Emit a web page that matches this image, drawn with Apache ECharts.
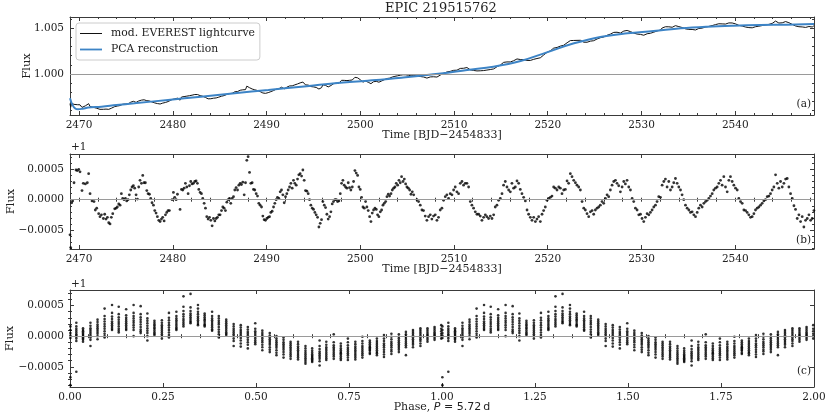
<!DOCTYPE html>
<html><head><meta charset="utf-8">
<script src="https://cdn.jsdelivr.net/npm/echarts@6/dist/echarts.min.js"></script>
<style>html,body{margin:0;padding:0;background:#fff}#c{width:831px;height:420px}</style>
</head><body><div id="c"></div>
<script>
// ---------- DATA ----------
const title = 'EPIC 219515762';

// PCA reconstruction (panel a, blue): [time BJD-2454833, flux]
const pcaCurve = [[2469.04,0.99734],[2469.3,0.99662],[2469.6,0.99622],[2469.9,0.99614],[2470.4,0.99620],[2471.0,0.99632],[2472.4,0.99642],[2474.0,0.99660],[2475.9,0.99679],[2479.5,0.99716],[2483.0,0.99752],[2486.6,0.99789],[2490.2,0.99825],[2493.7,0.99861],[2497.3,0.99898],[2500.8,0.99927],[2504.4,0.99960],[2508.6,1.00005],[2511.4,1.00044],[2514.2,1.00080],[2517.1,1.00142],[2519.9,1.00237],[2522.8,1.00336],[2525.6,1.00406],[2528.5,1.00445],[2531.3,1.00470],[2534.2,1.00500],[2537.0,1.00518],[2539.8,1.00529],[2542.7,1.00536],[2545.5,1.00540],[2548.4,1.00546]];

// Residual lightcurve (panel b): [time, flux-1 in units of 1e-5]
const residual = [[2469.04,-58],[2469.11,-79],[2469.22,-5],[2469.32,-2],[2469.47,28],[2469.68,49],[2469.82,48],[2469.97,50],[2470.11,46],[2470.32,15],[2470.46,27],[2470.68,26],[2470.89,28],[2471.03,43],[2471.18,10],[2471.39,-2],[2471.60,-3],[2471.74,-17],[2471.89,-14],[2472.10,-23],[2472.24,-28],[2472.39,-25],[2472.60,-31],[2472.74,-24],[2472.88,-32],[2473.03,-29],[2473.17,-38],[2473.31,-40],[2473.45,-29],[2473.60,-23],[2473.81,-15],[2473.95,-14],[2474.09,-12],[2474.24,-7],[2474.38,-9],[2474.52,10],[2474.66,2],[2474.81,0],[2474.95,2],[2475.09,-2],[2475.23,0],
[2475.37,8],[2475.52,16],[2475.66,21],[2475.80,23],[2475.94,19],[2476.09,8],[2476.23,1],[2476.37,21],[2476.51,32],[2476.66,27],[2476.80,40],[2476.94,28],[2477.08,28],[2477.23,15],[2477.37,10],[2477.51,9],[2477.65,2],[2477.79,-5],[2477.94,-9],[2478.08,-18],[2478.22,-22],[2478.36,-28],[2478.51,-34],[2478.65,-36],[2478.79,-32],[2478.93,-29],[2479.08,-35],[2479.22,-25],[2479.36,-21],[2479.50,-18],[2479.64,-18],[2479.93,0],[2480.07,12],[2480.21,4],[2480.36,0],[2480.50,9],[2480.78,-16],[2480.93,17],[2481.07,16],[2481.21,19],[2481.35,27],[2481.50,21],[2481.64,10],[2481.78,23],[2481.92,30],[2482.06,26],[2482.21,27],[2482.35,30],[2482.49,31],[2482.63,27],[2482.78,17],[2482.92,12],[2483.06,10],[2483.20,2],[2483.35,-6],[2483.49,-14],[2483.63,-28],[2483.77,-32],[2483.92,-29],[2484.06,-34],[2484.20,-43],[2484.34,-31],[2484.49,-35],[2484.63,-31],[2484.77,-29],[2484.91,-25],[2485.05,-25],[2485.20,-18],[2485.34,-12],[2485.48,-14],[2485.62,-18],
[2485.77,-4],[2485.91,0],[2486.05,2],[2486.19,-6],[2486.34,2],[2486.48,5],[2486.62,16],[2486.76,20],[2486.91,16],[2487.05,24],[2487.19,27],[2487.33,25],[2487.47,29],[2487.62,8],[2487.76,28],[2487.90,65],[2488.04,71],[2488.19,45],[2488.33,27],[2488.47,28],[2488.61,17],[2488.75,16],[2488.90,10],[2489.04,6],[2489.18,-6],[2489.32,-9],[2489.47,-12],[2489.61,-27],[2489.75,-33],[2489.89,-34],[2490.04,-31],[2490.18,-29],[2490.32,-28],[2490.46,-21],[2490.60,-19],[2490.75,-12],[2490.89,-6],[2491.03,0],[2491.17,4],[2491.32,2],[2491.46,13],[2491.60,16],[2491.74,8],[2491.89,-5],[2492.03,5],[2492.17,10],[2492.31,16],[2492.46,21],[2492.60,27],[2492.74,19],[2492.88,32],[2493.02,27],[2493.17,24],[2493.31,34],[2493.45,41],[2493.59,43],[2493.74,39],[2493.88,49],[2494.02,32],[2494.16,15],[2494.31,14],[2494.45,10],[2494.59,0],[2494.73,-9],[2494.88,-14],[2495.02,-16],[2495.16,-21],[2495.30,-25],[2495.45,-29],[2495.59,-45],[2495.73,-39],[2495.87,-33],[2496.01,-3],[2496.16,-9],[2496.30,-13],[2496.44,-24],[2496.58,-32],[2496.73,-28],[2496.87,-20],[2497.01,-7],[2497.15,-3],[2497.30,0],[2497.44,0],[2497.58,-3],[2497.72,-2],[2497.87,10],[2498.01,27],[2498.15,32],[2498.29,24],[2498.43,21],[2498.58,19],[2498.72,28],[2498.86,20],[2499.00,16],[2499.15,21],[2499.29,30],[2499.43,48],[2499.57,44],[2499.72,40],[2499.86,21],[2500.00,17],[2500.14,4],[2500.29,-12],[2500.43,-14],[2500.57,-3],[2500.71,-12],[2500.85,-18],[2501.00,-28],[2501.14,-36],[2501.28,-22],[2501.42,-17],[2501.57,-14],[2501.71,-16],[2501.85,-25],[2501.99,-28],[2502.14,-20],[2502.28,-17],[2502.42,-9],[2502.56,-6],[2502.71,-3],[2502.85,5],[2502.99,9],[2503.13,6],[2503.28,10],[2503.42,16],[2503.56,19],[2503.70,21],[2503.84,27],[2503.99,24],[2504.13,32],[2504.27,28],[2504.41,38],[2504.56,30],[2504.70,34],[2504.84,26],[2504.98,21],[2505.13,19],[2505.27,16],[2505.41,9],[2505.55,13],[2505.70,8],[2506.05,0],
[2506.22,-3],[2506.40,-9],[2506.58,-17],[2506.75,-18],[2506.93,-27],[2507.11,-34],[2507.29,-28],[2507.47,-25],[2507.64,-32],[2507.82,-27],[2508.00,-25],[2508.18,-34],[2508.35,-29],[2508.53,-17],[2508.71,-14],[2508.89,-1],[2509.07,5],[2509.24,8],[2509.42,2],[2509.60,10],[2509.78,8],[2509.96,16],[2510.13,21],[2510.31,13],[2510.49,10],[2510.67,27],[2510.85,30],[2511.02,24],[2511.20,27],[2511.38,27],[2511.56,21],[2511.74,-3],[2511.91,-9],[2512.09,-14],[2512.27,-20],[2512.45,-24],[2512.63,-24],[2512.80,-27],[2512.98,-34],[2513.16,-29],[2513.34,-25],[2513.51,-28],[2513.69,-31],[2513.87,-27],[2514.05,-31],[2514.23,-25],[2514.40,-12],[2514.58,-9],[2514.76,-1],[2514.94,2],[2515.12,10],[2515.29,24],[2515.47,30],[2515.65,21],[2515.83,16],[2516.01,13],[2516.18,27],[2516.36,19],[2516.54,21],[2516.72,31],[2516.90,27],[2517.07,17],[2517.25,10],[2517.43,4],[2517.61,-2],[2517.79,-17],[2517.96,-24],[2518.14,-29],[2518.32,-34],[2518.50,-29],[2518.68,-36],[2518.85,-32],[2519.03,-28],[2519.21,-36],[2519.39,-24],[2519.56,-18],[2519.74,-12],[2519.92,-1],[2520.10,2],[2520.28,4],[2520.45,6],[2520.63,21],[2520.81,19],[2520.99,16],[2521.17,21],[2521.34,19],[2521.52,10],[2521.70,16],[2521.88,17],[2522.06,31],[2522.23,27],[2522.41,43],[2522.59,38],[2522.77,32],[2522.95,28],[2523.12,24],[2523.30,21],[2523.48,16],[2523.66,-3],[2523.84,-14],[2524.01,-17],[2524.19,-23],[2524.37,-28],[2524.55,-20],[2524.73,-18],[2524.90,-24],[2525.08,-17],[2525.26,-14],[2525.44,-12],[2525.61,-9],[2525.79,-3],[2525.97,-6],[2526.15,2],[2526.33,8],[2526.50,5],[2526.68,16],[2526.86,24],[2527.04,30],[2527.22,32],[2527.39,27],[2527.57,23],[2527.75,13],[2527.93,21],[2528.11,30],[2528.28,26],[2528.46,32],[2528.64,21],[2528.82,16],[2529.00,2],[2529.17,-3],[2529.35,-14],[2529.53,-17],[2529.71,-25],[2529.89,-24],[2530.06,-31],[2530.24,-36],[2530.42,-29],[2530.60,-23],[2530.78,-25],[2530.95,-21],[2531.13,-17],[2531.31,-12],[2531.49,-9],[2531.66,-3],[2531.84,5],[2532.02,4],[2532.20,24],[2532.38,30],[2532.55,34],[2532.73,21],[2532.91,30],[2533.09,16],[2533.27,21],[2533.44,28],[2533.62,35],[2533.80,27],[2533.98,21],[2534.16,16],[2534.33,8],[2534.51,0],[2534.69,-9],[2534.87,-14],[2535.05,-17],[2535.22,-21],[2535.40,-20],[2535.58,-25],[2535.76,-28],[2535.94,-21],[2536.11,-14],[2536.29,-9],[2536.47,-12],[2536.65,-6],[2536.83,-3],[2537.00,-1],[2537.18,2],[2537.36,6],[2537.54,10],[2537.71,16],[2537.89,19],[2538.07,21],[2538.25,27],[2538.43,32],[2538.60,24],[2538.78,38],[2538.96,21],[2539.14,13],[2539.32,32],[2539.49,38],[2539.67,30],[2539.85,24],[2540.03,19],[2540.21,16],[2540.38,2],[2540.56,-3],[2540.74,-6],[2540.92,-17],[2541.10,-18],[2541.27,-21],[2541.45,-25],[2541.63,-29],[2541.81,-28],[2541.99,-23],[2542.16,-17],[2542.34,-14],[2542.52,-12],[2542.70,-9],[2542.87,-6],[2543.05,-2],[2543.23,0],[2543.41,5],[2543.59,6],[2543.76,10],[2543.94,16],[2544.12,21],[2544.30,41],[2544.48,27],[2544.65,19],[2544.83,30],[2545.01,21],[2545.19,27],[2545.37,34],[2545.54,35],[2545.72,21],[2545.90,10],[2546.08,2],[2546.26,-10],[2546.43,-16],[2546.61,-31],[2546.79,-25],[2546.97,-36],[2547.14,-28],[2547.32,-45],[2547.50,-34],[2547.68,-31],[2547.86,-25],[2548.04,-34],[2548.21,-31],[2548.39,-18]];

// Phase-folded columns (panel c, P = 5.72 d): phase of each column, and the column's flux-1 values (1e-5)
const phaseCols = [0.001,0.017,0.035,0.055,0.074,0.093,0.113,0.131,0.151,0.171,0.190,0.208,0.227,0.247,0.266,0.286,0.305,0.324,0.344,0.362,0.382,0.400,0.420,0.440,0.459,0.478,0.498,0.517,0.537,0.555,0.574,0.593,0.613,0.633,0.651,0.671,0.689,0.709,0.728,0.747,0.767,0.786,0.806,0.825,0.844,0.864,0.884,0.903,0.922,0.942,0.961,0.980,0.998];
const phaseFlux = [
[16,10,5,1,-3,-67,-80],[22,16,12,9,6,3,1,-1,-4,-8,-58],[13,10,8,6,4,2,0,-2,-4,-6,-9],[22,17,13,10,7,4,1,-2,-6,-16],
[27,23,19,16,13,10,7,4,0,-5],[45,33,28,24,20,16,12,8,4,0,-2],[51,38,32,28,24,21,18,15,12,10],[48,36,31,27,23,20,16,12,9,6],
[44,34,30,27,24,21,18,15,12,10],[51,38,33,29,25,22,18,14,10,0],[49,36,31,27,23,19,15,11,8,5],[37,29,25,21,17,13,9,5,0,-7],
[25,22,19,17,14,12,9,6,4,2],[26,22,18,15,12,9,6,3,0,-4],[38,30,26,22,18,14,10,6,2,-2],[40,33,29,26,23,20,17,14,12,10],
[65,48,41,36,32,28,25,22,19,16],[69,47,41,37,34,31,28,25,23,21],[51,45,40,36,32,29,26,23,20,18],[37,34,31,28,26,23,20,18,16],
[40,33,29,26,23,20,17,14,11,9],[33,29,25,22,19,15,11,7,3,-2],[27,24,21,18,15,12,9,6,4,2],[20,16,12,9,6,3,0,-4,-8,-16],
[18,14,10,7,4,1,-3,-7,-12,-17],[15,11,7,4,1,-2,-6,-10,-14,-20],[21,12,8,5,2,-1,-4,-7,-10,-13],[9,5,2,-1,-4,-7,-10,-14,-18,-23],
[5,1,-2,-5,-8,-11,-14,-18,-22,-26],[0,-4,-7,-10,-13,-16,-19,-23,-27,-31],[-2,-6,-10,-13,-16,-19,-22,-26,-30,-35],[-9,-12,-15,-18,-21,-24,-27,-30,-33,-37],
[-9,-13,-17,-20,-23,-26,-29,-32,-35,-38],[-16,-20,-24,-27,-30,-33,-36,-39,-42,-45],[-20,-24,-27,-30,-32,-34,-36,-38,-40,-42],[-7,-16,-21,-25,-28,-31,-34,-37,-41,-48],
[-9,-14,-18,-21,-24,-27,-30,-33,-36,-39],[3,-10,-15,-18,-21,-24,-27,-30,-33,-37],[-12,-16,-20,-23,-26,-28,-30,-33,-36,-39],[-4,-10,-15,-19,-22,-25,-28,-31,-35,-39],
[-9,-13,-17,-20,-23,-26,-29,-32,-35,-38],[-1,-8,-12,-16,-19,-22,-25,-28,-31,-35],[-7,-10,-13,-16,-18,-20,-22,-24,-27,-29],[-4,-8,-11,-14,-17,-20,-23,-26,-28,-31],
[2,-4,-8,-12,-15,-18,-22,-26,-30,-34],[4,-1,-5,-9,-12,-15,-18,-22,-25,-29],[3,-1,-4,-7,-10,-13,-16,-19,-22,-26],[7,3,0,-3,-6,-9,-12,-15,-18,-31],
[10,7,4,1,-2,-5,-8,-11,-14,-18],[13,10,7,4,1,-2,-5,-8,-12,-16],[13,10,7,4,2,0,-3,-6,-9],[15,12,9,6,4,2,0,-3,-6],[18,12,8,4,0,-4]];

// Tick values
const timeMajor = [2470,2480,2490,2500,2510,2520,2530,2540];
const timeMinor = [2470,2472,2474,2476,2478,2480,2482,2484,2486,2488,2490,2492,2494,2496,2498,2500,2502,2504,2506,2508,2510,2512,2514,2516,2518,2520,2522,2524,2526,2528,2530,2532,2534,2536,2538,2540,2542,2544,2546,2548];
const fluxAMajor = [1.000,1.005];
const fluxAMinor = [0.996,0.997,0.998,0.999,1.001,1.002,1.003,1.004,1.006];
const residMajor = [-0.0005,0,0.0005];
const residMinor = [-0.0008,-0.0007,-0.0006,-0.0004,-0.0003,-0.0002,-0.0001,0.0001,0.0002,0.0003,0.0004,0.0006,0.0007];
const phaseMajor = [0,0.25,0.5,0.75,1,1.25,1.5,1.75,2];
const phaseMinor = [0.05,0.1,0.15,0.2,0.3,0.35,0.4,0.45,0.55,0.6,0.65,0.7,0.8,0.85,0.9,0.95,1.05,1.1,1.15,1.2,1.3,1.35,1.4,1.45,1.55,1.6,1.65,1.7,1.8,1.85,1.9,1.95];

// ---------- BUILD ----------
const E5 = 1e-5;
function pcaAt(t){
  for (let i=1;i<pcaCurve.length;i++){
    if (t<=pcaCurve[i][0]){
      const a=pcaCurve[i-1], b=pcaCurve[i], f=(t-a[0])/(b[0]-a[0]);
      return a[1]+(b[1]-a[1])*f;
    }
  }
  return pcaCurve[pcaCurve.length-1][1];
}
// mod. EVEREST lightcurve = PCA reconstruction x (1 + residual)
const lightcurve = residual.map(p => [p[0], pcaAt(p[0])*(1+p[1]*E5)]);
const residData = residual.map(p => [p[0], p[1]*E5]);
const phaseData = [];
[0,1].forEach(c => phaseCols.forEach((ph,i) => phaseFlux[i].forEach(v => phaseData.push([ph+c, v*E5]))));

const FRAME = '#3a3a3a';
const SERIF = 'DejaVu Serif';
const lblStyle = {fontFamily:SERIF, fontSize:10.5, color:'#222'};
const minus = s => s.replace('-', '\u2212');

function xAxes(gi, min, max, major, minor, fmt, name, nameGap, nameStyle){
  const base = {type:'value', gridIndex:gi, min, max, splitLine:{show:false}, axisPointer:{show:false}};
  return [
    Object.assign({}, base, {position:'bottom', axisLine:{show:true, onZero:false, lineStyle:{color:FRAME, width:1}},
      axisTick:{show:true, inside:true, length:4, customValues:major, lineStyle:{color:FRAME}},
      axisLabel:Object.assign({show:true, customValues:major, formatter:fmt, margin:5}, lblStyle),
      name, nameLocation:'middle', nameGap, nameMoveOverlap:false, nameTextStyle:nameStyle}),
    Object.assign({}, base, {position:'bottom', axisLine:{show:false}, axisTick:{show:true, inside:true, length:2, customValues:minor, lineStyle:{color:FRAME}}, axisLabel:{show:false}}),
    Object.assign({}, base, {position:'top', axisLine:{show:true, onZero:false, lineStyle:{color:FRAME, width:1}}, axisTick:{show:true, inside:true, length:4, customValues:major, lineStyle:{color:FRAME}}, axisLabel:{show:false}}),
    Object.assign({}, base, {position:'top', axisLine:{show:false}, axisTick:{show:true, inside:true, length:2, customValues:minor, lineStyle:{color:FRAME}}, axisLabel:{show:false}})
  ];
}
function yAxes(gi, min, max, major, minor, fmt, nameGap){
  const base = {type:'value', gridIndex:gi, min, max, scale:true, splitLine:{show:false}, axisPointer:{show:false}};
  return [
    Object.assign({}, base, {position:'left', axisLine:{show:true, onZero:false, lineStyle:{color:FRAME, width:1}},
      axisTick:{show:true, inside:true, length:4, customValues:major, lineStyle:{color:FRAME}},
      axisLabel:Object.assign({show:true, customValues:major, formatter:fmt, margin:6}, lblStyle),
      name:'Flux', nameLocation:'middle', nameGap, nameMoveOverlap:false, nameTextStyle:{fontFamily:SERIF, fontSize:11.5, color:'#222'}}),
    Object.assign({}, base, {position:'left', axisLine:{show:false}, axisTick:{show:true, inside:true, length:2, customValues:minor, lineStyle:{color:FRAME}}, axisLabel:{show:false}}),
    Object.assign({}, base, {position:'right', axisLine:{show:true, onZero:false, lineStyle:{color:FRAME, width:1}}, axisTick:{show:true, inside:true, length:4, customValues:major, lineStyle:{color:FRAME}}, axisLabel:{show:false}}),
    Object.assign({}, base, {position:'right', axisLine:{show:false}, axisTick:{show:true, inside:true, length:2, customValues:minor, lineStyle:{color:FRAME}}, axisLabel:{show:false}})
  ];
}
const timeName = 'Time [BJD\u22122454833]';
const nameStyle = {fontFamily:SERIF, fontSize:11, color:'#222'};
const phaseNameStyle = {color:'#222', rich:{
  s:{fontFamily:SERIF, fontSize:11, color:'#222'},
  i:{fontFamily:'DejaVu Sans', fontStyle:'italic', fontSize:11, color:'#222'},
  n:{fontFamily:'DejaVu Sans', fontSize:11, color:'#222'}}};

const fmtInt = v => String(Math.round(v));
const fmt3 = v => v.toFixed(3);
const fmt4 = v => minus(v.toFixed(4));
const fmt2 = v => v.toFixed(2);

const xAxis = [].concat(
  xAxes(0, 2469.04, 2548.4, timeMajor, timeMinor, fmtInt, timeName, 15, nameStyle),
  xAxes(1, 2469.04, 2548.4, timeMajor, timeMinor, fmtInt, timeName, 15, nameStyle),
  xAxes(2, 0, 2, phaseMajor, phaseMinor, fmt2, '{s|Phase, }{i|P}{n| = 5.72\u2009d}', 15, phaseNameStyle)
);
const yAxis = [].concat(
  yAxes(0, 0.99551, 1.00624, fluxAMajor, fluxAMinor, fmt3, 37),
  yAxes(1, -0.000813, 0.000754, residMajor, residMinor, fmt4, 53),
  yAxes(2, -0.00083, 0.000754, residMajor, residMinor, fmt4, 54)
);

const refLine = y => ({silent:true, symbol:'none', label:{show:false}, animation:false,
  lineStyle:{color:'#9a9a9a', width:1, type:'solid'}, data:[{yAxis:y}]});

const gridBase = {outerBoundsMode:'none', containLabel:false};
const option = {
  animation:false,
  backgroundColor:'#fff',
  grid:[
    Object.assign({left:70, top:17, width:744, height:98}, gridBase),
    Object.assign({left:70, top:154, width:744, height:95}, gridBase),
    Object.assign({left:70, top:290, width:744, height:97}, gridBase)
  ],
  xAxis, yAxis,
  legend:{
    left:76, top:23, orient:'vertical', padding:[5,5,5,4], itemGap:5, itemWidth:22, itemHeight:11,
    backgroundColor:'rgba(255,255,255,0.9)', borderColor:'#cccccc', borderWidth:1, borderRadius:3,
    selectedMode:false,
    textStyle:{fontFamily:SERIF, fontSize:10.8, color:'#222', padding:[0,0,0,4]},
    data:[
      {name:'mod. EVEREST lightcurve', icon:'path://M0,4.6 L22,4.6 L22,5.6 L0,5.6 Z', itemStyle:{color:'#111'}},
      {name:'PCA reconstruction', icon:'path://M0,4.2 L22,4.2 L22,6.0 L0,6.0 Z', itemStyle:{color:'#3d84c6'}}
    ]
  },
  graphic:[
    {type:'text', left:442-57, top:2, style:{text:title, fontFamily:SERIF, fontSize:13, fill:'#222'}},
    {type:'text', x:71, y:142, style:{text:'+1', fontFamily:SERIF, fontSize:10.5, fill:'#222'}},
    {type:'text', x:71, y:279, style:{text:'+1', fontFamily:SERIF, fontSize:10.5, fill:'#222'}},
    {type:'text', x:811, y:99, style:{text:'(a)', align:'right', fontFamily:SERIF, fontSize:10.5, fill:'#222'}},
    {type:'text', x:811, y:235, style:{text:'(b)', align:'right', fontFamily:SERIF, fontSize:10.5, fill:'#222'}},
    {type:'text', x:811, y:366, style:{text:'(c)', align:'right', fontFamily:SERIF, fontSize:10.5, fill:'#222'}}
  ],
  series:[
    {name:'mod. EVEREST lightcurve', type:'line', xAxisIndex:0, yAxisIndex:0, data:lightcurve, symbol:'none', showSymbol:false,
      lineStyle:{color:'#111', width:1}, itemStyle:{color:'#111'}, z:3, markLine:refLine(1.0)},
    {name:'PCA reconstruction', type:'line', xAxisIndex:0, yAxisIndex:0, data:pcaCurve, symbol:'none', showSymbol:false, smooth:0.4,
      lineStyle:{color:'#3d84c6', width:2}, itemStyle:{color:'#3d84c6'}, z:4},
    {type:'scatter', xAxisIndex:4, yAxisIndex:4, data:residData, symbolSize:2.8, itemStyle:{color:'#000'}, z:3, markLine:refLine(0)},
    {type:'scatter', xAxisIndex:8, yAxisIndex:8, data:phaseData, symbolSize:2.6, itemStyle:{color:'#000'}, z:3, markLine:refLine(0)}
  ]
};
const chart = echarts.init(document.getElementById('c'), null, {renderer:'canvas'});
chart.setOption(option);
</script></body></html>
